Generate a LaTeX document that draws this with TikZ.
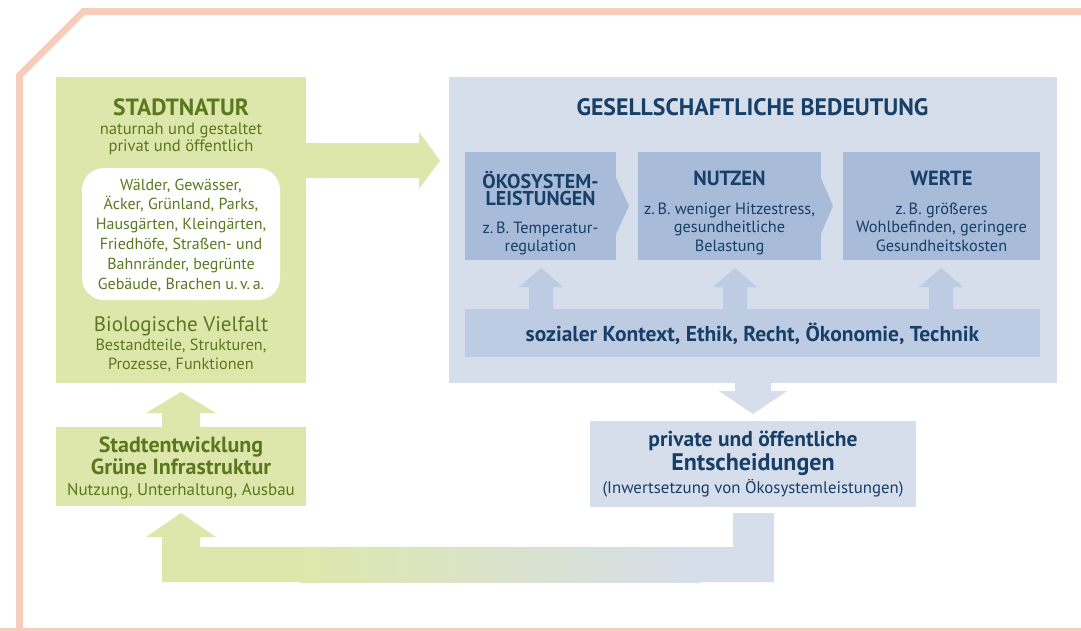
\documentclass[tikz,border=0pt]{standalone}
\usepackage{fontspec}
\setmainfont{PT Sans}
\usetikzlibrary{calc}
\definecolor{gfill}{HTML}{DEE7AB}
\definecolor{gtext}{HTML}{5B781E}
\definecolor{bl}{HTML}{D6DEEB}
\definecolor{bm}{HTML}{A8BBD9}
\definecolor{bb}{HTML}{BDCCE2}
\definecolor{btext}{HTML}{173F68}
\definecolor{framec}{HTML}{F6CDBA}
\newcommand\fsz[1]{\fontsize{#1}{#1}\selectfont}
% style, bottom coord, tip coord, head length, head half width, shaft half width
\newcommand\uparrowblk[6]{%
  \fill[#1] let \p1=#2, \p2=#3 in (\p2) -- (\x2+#5,\y2-#4) -- (\x2+#6,\y2-#4)
    -- (\x2+#6,\y1) -- (\x2-#6,\y1) -- (\x2-#6,\y2-#4) -- (\x2-#5,\y2-#4) -- cycle;}
\newcommand\downarrowblk[6]{%
  \fill[#1] let \p1=#2, \p2=#3 in (\p2) -- (\x2+#5,\y2+#4) -- (\x2+#6,\y2+#4)
    -- (\x2+#6,\y1) -- (\x2-#6,\y1) -- (\x2-#6,\y2+#4) -- (\x2-#5,\y2+#4) -- cycle;}
\begin{document}
\begin{tikzpicture}[x=1pt,y=-1pt,
  every node/.style={inner sep=0pt, outer sep=0pt},
  rect/.style 2 args={minimum width=#1pt, minimum height=#2pt},
  gt/.style={text=gtext, anchor=base},
  bt/.style={text=btext, anchor=base}]
\useasboundingbox (0,0) rectangle (1081,630);
\clip (0,0) rectangle (1081,630);
\fill[white] (0,0) rectangle (1081,630);
% frame
\draw[framec, line width=7pt, line join=miter] (19.5,650) -- (19.5,75.5) -- (83.5,11.5) -- (1100,11.5);
\draw[framec, line width=7pt] (0,631.5) -- (1100,631.5);

% boxes
\node[rect={250}{306}, fill=gfill] (sn) at (181,230) {};
\node[rect={198}{132}, fill=white, rounded corners=22pt] (wb) at (181,234) {};
\node[rect={250}{79}, fill=gfill] (se) at (181,466.5) {};
\node[rect={608}{306}, fill=bl] (gb) at (753,230) {};
\node[rect={151}{108}, fill=bm] (ok) at (540.5,206) {};
\node[rect={183}{108}, fill=bm] (nu) at (729.5,206) {};
\node[rect={197}{108}, fill=bm] (we) at (941.5,206) {};
\node[rect={575}{48}, fill=bb] (bar) at (752.5,333) {};
\node[rect={326}{86}, fill=bl] (en) at (753,464) {};

% chevrons
\fill[bm] ($(ok.east)+(-0.5,-29)$) -- ($(ok.east)+(13,0)$) -- ($(ok.east)+(-0.5,29)$) -- cycle;
\fill[bm] ($(nu.east)+(-0.5,-29)$) -- ($(nu.east)+(12,0)$) -- ($(nu.east)+(-0.5,29)$) -- cycle;

% small up arrows from the context bar
\uparrowblk{bb}{($(bar.north)+(0,1)$)}{($(ok.south)+(0.5,8)$)}{19pt}{22pt}{12pt}
\uparrowblk{bb}{($(bar.north)+(0,1)$)}{($(nu.south)+(5.5,8)$)}{19pt}{22pt}{12pt}
\uparrowblk{bb}{($(bar.north)+(0,1)$)}{($(we.south)+(-0.5,8)$)}{19pt}{22pt}{12pt}

% down arrow to decisions
\downarrowblk{bl}{($(gb.south)+(0,-1)$)}{($(en.north)+(0,-7)$)}{23pt}{34pt}{18pt}

% green right arrow
\fill[gfill] let \p1=(sn.east), \p2=($(gb.west)+(-9,0)$) in
  (\x1-1pt,-143pt) -- (\x2-21pt,-143pt) -- (\x2-21pt,-132pt) -- (\x2,-160.5pt)
  -- (\x2-21pt,-189pt) -- (\x2-21pt,-178pt) -- (\x1-1pt,-178pt) -- cycle;

% green up arrow between boxes
\uparrowblk{gfill}{($(se.north)+(0,1)$)}{($(sn.south)+(0,9)$)}{21pt}{35pt}{19pt}

% feedback arrow (bottom)
\fill[gfill] (181,513) -- (216,537) -- (200,537) -- (200,547) -- (301,547) -- (301,582)
  -- (162,582) -- (162,537) -- (146,537) -- cycle;
\shade[left color=gfill, right color=bl] (300,547) rectangle (701,582);
\fill[bl] (700,547) -- (733,547) -- (733,513) -- (774,513) -- (774,582) -- (700,582) -- cycle;

% texts: Stadtnatur
\node[gt, font=\bfseries\fsz{23.5}] (t1) at (181,115) {STADTNATUR};
\node[gt, font=\fsz{16.6}] (t2) at (181,134) {naturnah und gestaltet};
\node[gt, font=\fsz{16.6}] (t3) at (181,151.7) {privat und öffentlich};
\node[gt, font=\fsz{16}] (w1) at (181,190) {Wälder, Gewässer,};
\node[gt, font=\fsz{16}] (w2) at (181,209.5) {Äcker, Grünland, Parks,};
\node[gt, font=\fsz{16}] (w3) at (181,229.3) {Hausgärten, Kleingärten,};
\node[gt, font=\fsz{16}] (w4) at (181,249.2) {Friedhöfe, Straßen- und};
\node[gt, font=\fsz{16}] (w5) at (181,269) {Bahnränder, begrünte};
\node[gt, font=\fsz{16}] (w6) at (181,289) {Gebäude, Brachen u.\,v.\,a.};
\node[gt, font=\fsz{21}] (b1) at (181,331) {Biologische Vielfalt};
\node[gt, font=\fsz{16.2}] (b2) at (181,350.7) {Bestandteile, Strukturen,};
\node[gt, font=\fsz{16.2}] (b3) at (181,369) {Prozesse, Funktionen};
% Stadtentwicklung
\node[gt, font=\bfseries\fsz{22}] (s1) at (181,452.7) {Stadtentwicklung};
\node[gt, font=\bfseries\fsz{22}] (s2) at (181,474.3) {Grüne Infrastruktur};
\node[gt, font=\fsz{17}] (s3) at (181,495) {Nutzung, Unterhaltung, Ausbau};
% Gesellschaftliche Bedeutung
\node[bt, font=\bfseries\fsz{23.8}] (g1) at (752.5,115) {GESELLSCHAFTLICHE BEDEUTUNG};
\node[bt, font=\bfseries\fsz{20}, align=center] (o1) at (540.5,205.3) {ÖKOSYSTEM-\\[-2.8pt]LEISTUNGEN};
\node[bt, font=\fsz{16.3}] (o3) at (540.5,233.3) {z.\,B. Temperatur-};
\node[bt, font=\fsz{16.3}] (o4) at (540.5,251.7) {regulation};
\node[bt, font=\bfseries\fsz{20.5}] (n1) at (729.5,185) {NUTZEN};
\node[bt, font=\fsz{16.3}] (n2) at (729.5,214) {z.\,B. weniger Hitzestress,};
\node[bt, font=\fsz{16.3}] (n3) at (729.5,232.5) {gesundheitliche};
\node[bt, font=\fsz{16.3}] (n4) at (729.5,251) {Belastung};
\node[bt, font=\bfseries\fsz{20.5}] (v1) at (941.5,185) {WERTE};
\node[bt, font=\fsz{16.3}] (v2) at (941.5,214) {z.\,B. größeres};
\node[bt, font=\fsz{16.3}] (v3) at (941.5,232.5) {Wohlbefinden, geringere};
\node[bt, font=\fsz{16.3}] (v4) at (941.5,251) {Gesundheitskosten};
\node[bt, font=\bfseries\fsz{21.5}] (k1) at (752.5,341) {sozialer Kontext, Ethik, Recht, Ökonomie, Technik};
% Entscheidungen
\node[bt, font=\bfseries\fsz{21.5}] (e1) at (753,446.7) {private und öffentliche};
\node[bt, font=\bfseries\fsz{24}] (e2) at (753,470.7) {Entscheidungen};
\node[bt, font=\fsz{16.8}] (e3) at (753,493.3) {(Inwertsetzung von Ökosystemleistungen)};
\end{tikzpicture}
\end{document}
